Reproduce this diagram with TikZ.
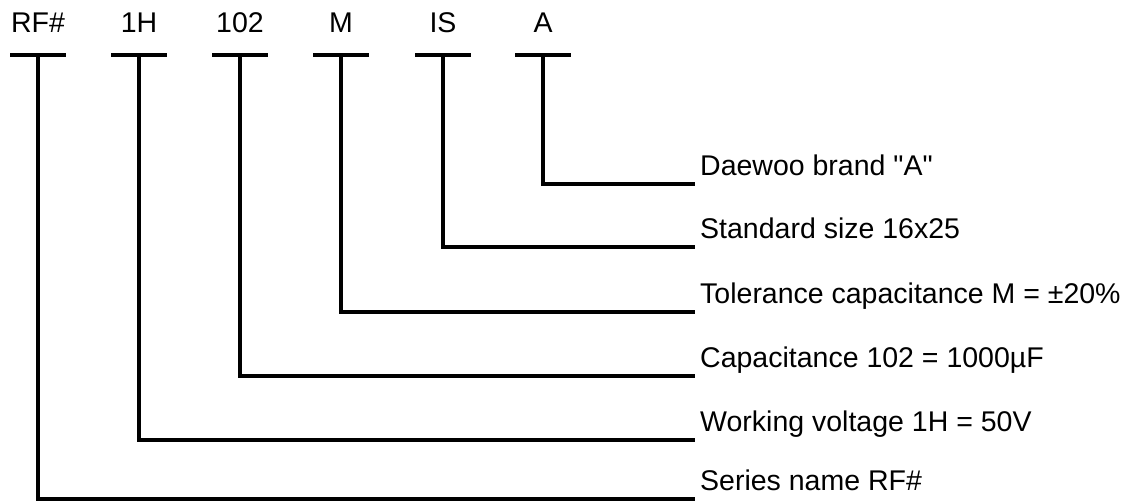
\documentclass[tikz,border=0pt]{standalone}
\usepackage{fontspec}
\setmainfont{Liberation Sans}
\usetikzlibrary{calc}
\tikzset{
  code/.style={font=\fontsize{28.5}{32}\selectfont, anchor=base, inner sep=0pt},
  desc/.style={font=\fontsize{28.5}{32}\selectfont, anchor=base west, inner sep=0pt},
  lead/.style={line width=3.8pt, black}
}
\begin{document}
\begin{tikzpicture}[x=1pt,y=-1pt]
\useasboundingbox (0,0) rectangle (1138,501);
\foreach \x/\i/\t/\y/\d in {38/0/RF\#/499/Series name RF\#,
                            139/1/1H/440/Working voltage 1H = 50V,
                            240/2/102/376/Capacitance 102 = 1000µF,
                            341/3/M/312/Tolerance capacitance M = ±20\%,
                            443/4/IS/247/Standard size 16x25,
                            543/5/A/184/Daewoo brand \textquotedbl A\textquotedbl} {
  \node[code] (code\i) at (\x,32) {\t};
  \coordinate (top\i) at (\x,55);
  \draw[lead] ($(top\i)+(-28,0)$) -- ($(top\i)+(28,0)$);
  \coordinate (end\i) at (695,\y);
  \node[desc] (desc\i) at (700,\y-9) {\d};
  \draw[lead] (top\i) |- (end\i);}
\end{tikzpicture}
\end{document}
